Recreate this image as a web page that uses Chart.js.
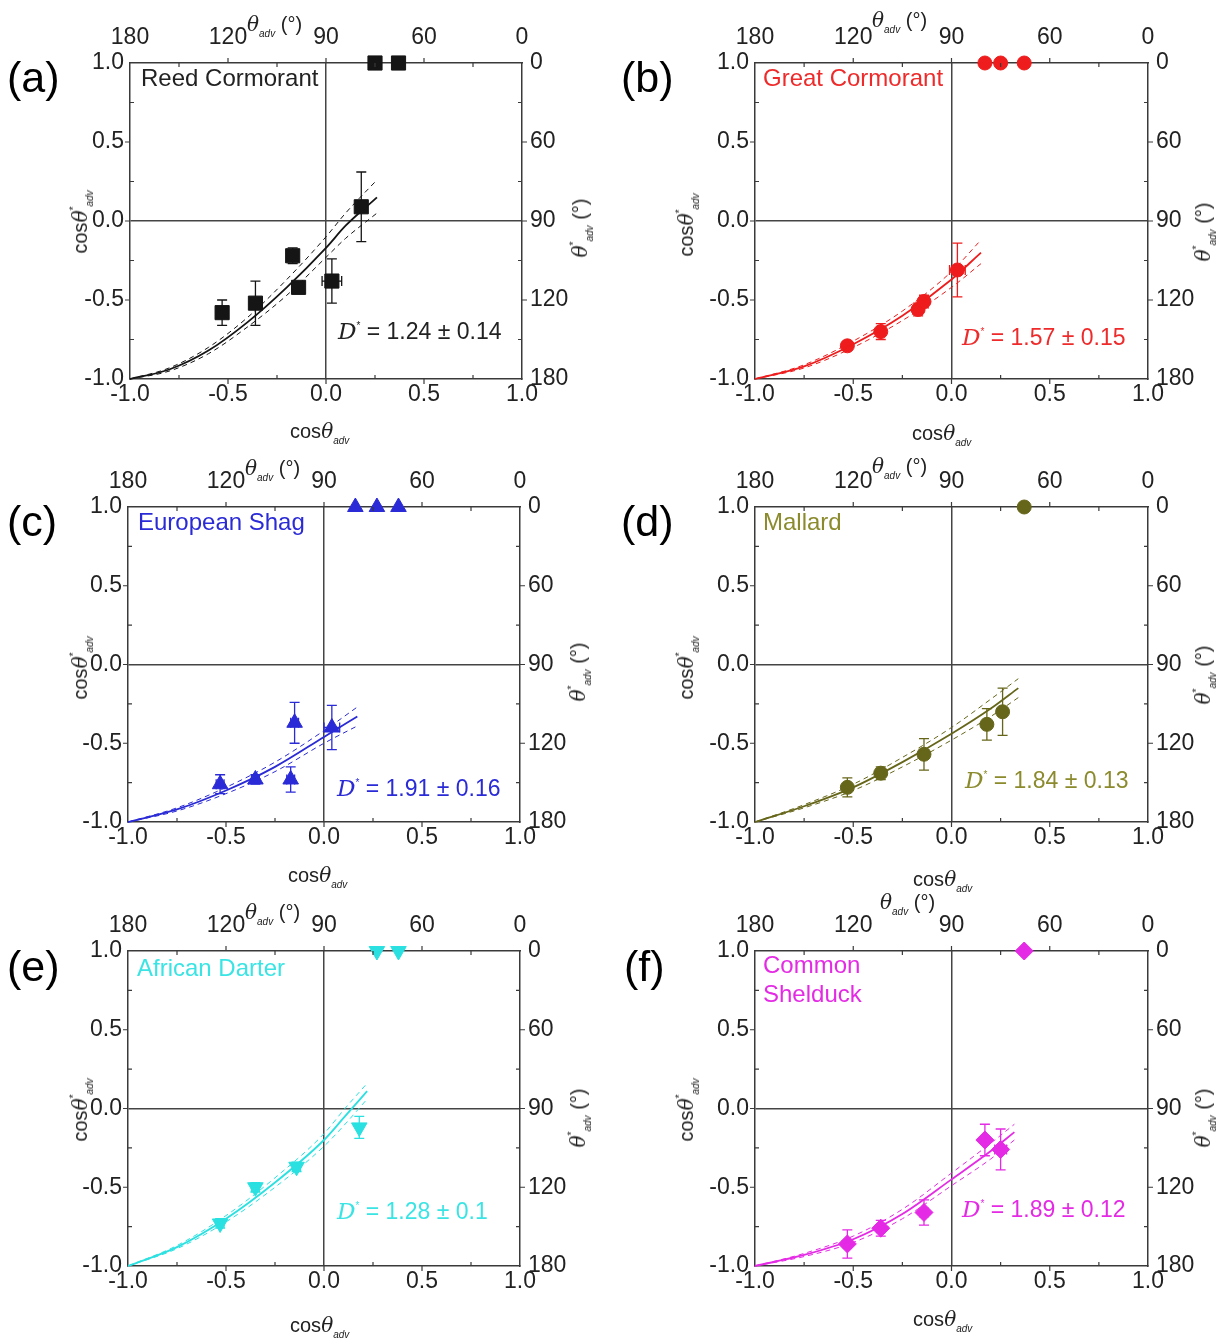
<!DOCTYPE html>
<html>
<head>
<meta charset="utf-8">
<script src="https://cdn.jsdelivr.net/npm/chart.js@4.4.1/dist/chart.umd.min.js"></script>
<style>
  body { margin: 0; background: #fff; font-family: 'Liberation Sans', Arial, sans-serif; }
  #wrap { position: relative; width: 1225px; height: 1344px; overflow: hidden; }
  canvas { position: absolute; }
  .t { position: absolute; white-space: nowrap; line-height: 1; }
  .let { font-size: 43px; color: #000; }
  .sp { font-size: 24px; }
  .dv { font-size: 23px; }
  .ax { font-size: 20px; color: #222; }
  .ax i, .dv i { font-family: 'DejaVu Serif', serif; }
  .ax sub { font-size: 10px; font-style: italic; vertical-align: -6px; }
  .ax sup, .dv sup { font-size: 10px; vertical-align: 10px; }
  .rot { transform: translate(-50%, -50%) rotate(-90deg); }
</style>
</head>
<body>
<div id="wrap"></div>
<script>
// tick labels
const cosLabels = ['-1.0', '-0.5', '0.0', '0.5', '1.0'];
const angleLabels = ['180', '120', '90', '60', '0'];

// (a) Reed Cormorant
const reedX = [-0.53, -0.36, -0.17, -0.14, 0.03, 0.18];
const reedY = [-0.58, -0.52, -0.22, -0.42, -0.38, 0.09];
const reedYErr = [0.08, 0.14, 0.05, 0.03, 0.14, 0.22];
const reedXErr = [0, 0, 0, 0, 0.05, 0];
const reedTopX = [0.25, 0.37];
const reedFitX = [-1, -0.8, -0.6, -0.4, -0.2, 0, 0.1, 0.26];
const reedFitY = [-1, -0.94, -0.82, -0.64, -0.42, -0.17, -0.03, 0.15];
const reedFitHi = [-1, -0.93, -0.80, -0.61, -0.37, -0.10, 0.05, 0.26];
const reedFitLo = [-1, -0.95, -0.84, -0.67, -0.47, -0.23, -0.11, 0.05];

// (b) Great Cormorant
const greatX = [-0.53, -0.36, -0.17, -0.14, 0.03];
const greatY = [-0.79, -0.70, -0.56, -0.51, -0.31];
const greatYErr = [0.02, 0.05, 0.04, 0.04, 0.17];
const greatXErr = [0.02, 0.02, 0.02, 0.02, 0.04];
const greatTopX = [0.17, 0.25, 0.37];
const greatFitX = [-1, -0.75, -0.5, -0.25, 0, 0.15];
const greatFitY = [-1, -0.92, -0.78, -0.60, -0.37, -0.20];
const greatFitHi = [-1, -0.91, -0.76, -0.57, -0.32, -0.12];
const greatFitLo = [-1, -0.93, -0.80, -0.63, -0.42, -0.27];

// (c) European Shag
const shagX = [-0.53, -0.35, -0.17, -0.15, 0.04];
const shagY = [-0.76, -0.73, -0.73, -0.37, -0.40];
const shagYErr = [0.06, 0.03, 0.08, 0.13, 0.14];
const shagXErr = [0.02, 0.02, 0.02, 0.02, 0.04];
const shagTopX = [0.16, 0.27, 0.38];
const shagFitX = [-1, -0.75, -0.5, -0.25, 0, 0.17];
const shagFitY = [-1, -0.92, -0.80, -0.65, -0.46, -0.33];
const shagFitHi = [-1, -0.91, -0.78, -0.62, -0.42, -0.27];
const shagFitLo = [-1, -0.93, -0.82, -0.68, -0.50, -0.39];

// (d) Mallard
const mallX = [-0.53, -0.36, -0.14, 0.18, 0.26];
const mallY = [-0.78, -0.69, -0.57, -0.38, -0.30];
const mallYErr = [0.06, 0.04, 0.10, 0.10, 0.15];
const mallXErr = [0, 0, 0.02, 0, 0];
const mallTopX = [0.37];
const mallFitX = [-1, -0.75, -0.5, -0.25, 0, 0.2, 0.34];
const mallFitY = [-1, -0.90, -0.78, -0.62, -0.44, -0.28, -0.15];
const mallFitHi = [-1, -0.89, -0.76, -0.59, -0.40, -0.22, -0.09];
const mallFitLo = [-1, -0.91, -0.80, -0.65, -0.48, -0.33, -0.21];

// (e) African Darter
const dartX = [-0.53, -0.35, -0.14, 0.18];
const dartY = [-0.73, -0.50, -0.37, -0.12];
const dartYErr = [0.03, 0.03, 0.03, 0.07];
const dartXErr = [0.02, 0.02, 0.02, 0];
const dartTopX = [0.27, 0.38];
const dartFitX = [-1, -0.75, -0.5, -0.25, 0, 0.1, 0.22];
const dartFitY = [-1, -0.88, -0.70, -0.47, -0.20, -0.06, 0.11];
const dartFitHi = [-1, -0.87, -0.68, -0.44, -0.16, -0.01, 0.16];
const dartFitLo = [-1, -0.89, -0.72, -0.50, -0.24, -0.11, 0.06];

// (f) Common Shelduck
const sheldX = [-0.53, -0.36, -0.14, 0.17, 0.25];
const sheldY = [-0.86, -0.76, -0.66, -0.20, -0.26];
const sheldYErr = [0.09, 0.05, 0.08, 0.10, 0.13];
const sheldXErr = [0.02, 0.02, 0.02, 0.02, 0.03];
const sheldTopX = [0.37];
const sheldFitX = [-1, -0.75, -0.5, -0.25, 0, 0.2, 0.32];
const sheldFitY = [-1, -0.93, -0.83, -0.67, -0.45, -0.27, -0.15];
const sheldFitHi = [-1, -0.92, -0.81, -0.64, -0.41, -0.22, -0.10];
const sheldFitLo = [-1, -0.94, -0.85, -0.70, -0.49, -0.32, -0.20];

Chart.defaults.font.family = "'Liberation Sans', Arial, sans-serif";
Chart.defaults.font.size = 23;
Chart.defaults.color = '#222';

const errorBars = {
  id: 'errorBars',
  beforeDatasetsDraw(chart) {
    const { ctx, scales: { x, y } } = chart;
    chart.data.datasets.forEach(ds => {
      if (!ds.yErr) return;
      ctx.save();
      ctx.strokeStyle = ds.borderColor;
      ctx.lineWidth = 1.3;
      ctx.beginPath();
      ds.data.forEach((d, i) => {
        const px = x.getPixelForValue(d.x), py = y.getPixelForValue(d.y);
        const ey = ds.yErr[i], ex = ds.xErr[i];
        if (ey) {
          const t = y.getPixelForValue(d.y + ey), b = y.getPixelForValue(d.y - ey);
          ctx.moveTo(px, t); ctx.lineTo(px, b);
          ctx.moveTo(px - 5, t); ctx.lineTo(px + 5, t);
          ctx.moveTo(px - 5, b); ctx.lineTo(px + 5, b);
        }
        if (ex) {
          const l = x.getPixelForValue(d.x - ex), r = x.getPixelForValue(d.x + ex);
          ctx.moveTo(l, py); ctx.lineTo(r, py);
          ctx.moveTo(l, py - 5); ctx.lineTo(l, py + 5);
          ctx.moveTo(r, py - 5); ctx.lineTo(r, py + 5);
        }
      });
      ctx.stroke();
      ctx.restore();
    });
  }
};

// small tick marks on all four sides of the frame
const tickMarks = {
  id: 'tickMarks',
  afterDraw(chart) {
    const { ctx, chartArea: a, scales: { x, y } } = chart;
    ctx.save();
    ctx.strokeStyle = '#3a3a3a';
    ctx.lineWidth = 1.2;
    ctx.beginPath();
    for (let k = 1; k < 8; k++) {
      const v = -1 + k * 0.25;
      const major = k % 2 === 0;
      const px = x.getPixelForValue(v), py = y.getPixelForValue(v);
      const o = major ? 5 : 0, n = major ? 0 : 4;
      ctx.moveTo(px, a.bottom + o); ctx.lineTo(px, a.bottom - n);
      ctx.moveTo(px, a.top - o); ctx.lineTo(px, a.top + n);
      ctx.moveTo(a.left - o, py); ctx.lineTo(a.left + n, py);
      ctx.moveTo(a.right + o, py); ctx.lineTo(a.right - n, py);
    }
    ctx.stroke();
    ctx.restore();
  }
};

const wrap = document.getElementById('wrap');

function addText(cls, html, left, top, color) {
  const d = document.createElement('div');
  d.className = 't ' + cls;
  d.innerHTML = html;
  d.style.left = left + 'px';
  d.style.top = top + 'px';
  if (color) d.style.color = color;
  wrap.appendChild(d);
  return d;
}

function buildPanel(p) {
  const cv = document.createElement('canvas');
  cv.width = 612; cv.height = 450;
  cv.style.left = p.cx + 'px';
  cv.style.top = p.cy + 'px';
  wrap.appendChild(cv);

  const f = p.frame;
  const yW = f.l - p.cx, y2W = p.cx + 612 - f.r;
  const x2H = f.t - p.cy, xH = p.cy + 450 - f.b;

  const fitLine = (ys, dash, w) => ({
    data: p.fitX.map((v, i) => ({ x: v, y: ys[i] })),
    showLine: true, borderColor: p.color, borderWidth: w, borderDash: dash,
    pointRadius: 0, cubicInterpolationMode: 'monotone', clip: false
  });
  const marker = {
    pointStyle: p.style, pointRotation: p.rot || 0, radius: p.r,
    backgroundColor: p.color, borderColor: p.color, borderWidth: 1, clip: false
  };

  const border = { display: true, color: '#3a3a3a', width: 1.5 };
  const zeroGrid = { drawTicks: false, lineWidth: 1.5,
    color: c => (c.tick && c.tick.value === 0) ? '#444' : 'rgba(0,0,0,0)' };
  const noGrid = { drawTicks: false, drawOnChartArea: false };

  new Chart(cv, {
    type: 'scatter',
    data: {
      datasets: [
        fitLine(p.fitHi, [5, 4], 1),
        fitLine(p.fitLo, [5, 4], 1),
        fitLine(p.fitY, [], 1.8),
        Object.assign({ data: p.x.map((v, i) => ({ x: v, y: p.y[i] })), yErr: p.yErr, xErr: p.xErr }, marker),
        Object.assign({ data: p.topX.map(v => ({ x: v, y: 1 })) }, marker)
      ]
    },
    options: {
      responsive: false, animation: false, events: [],
      layout: { padding: 0 },
      plugins: { legend: { display: false }, tooltip: { enabled: false } },
      scales: {
        x: { type: 'linear', position: 'bottom', min: -1, max: 1,
          ticks: { stepSize: 0.5, padding: 2, maxRotation: 0, callback: (v, i) => cosLabels[i] },
          grid: zeroGrid, border, afterFit: s => { s.height = xH; } },
        x2: { type: 'linear', position: 'top', min: -1, max: 1,
          ticks: { stepSize: 0.5, padding: 12, maxRotation: 0, callback: (v, i) => angleLabels[i] },
          grid: noGrid, border, afterFit: s => { s.height = x2H; } },
        y: { type: 'linear', position: 'left', min: -1, max: 1,
          ticks: { stepSize: 0.5, padding: 6, callback: (v, i) => cosLabels[i] },
          grid: zeroGrid, border, afterFit: s => { s.width = yW; } },
        y2: { type: 'linear', position: 'right', min: -1, max: 1,
          ticks: { stepSize: 0.5, padding: 8, callback: (v, i) => angleLabels[i] },
          grid: noGrid, border, afterFit: s => { s.width = y2W; } }
      }
    },
    plugins: [errorBars, tickMarks]
  });

  const o = p.txt;
  addText('let', '(' + p.letter + ')', o.let[0], o.let[1]);
  p.names.forEach((nm, i) => addText('sp', nm, o.sp[0], o.sp[1] + i * 29, p.textColor));
  addText('dv', '<i>D</i><sup>*</sup> = ' + p.dval, o.dv[0], o.dv[1], p.textColor);
  addText('ax', 'cos<i>θ</i><sub>adv</sub>', o.bt[0], o.bt[1]);
  addText('ax rot', 'cos<i>θ</i><sup>*</sup><sub>adv</sub>', o.lt[0], o.lt[1]);
  addText('ax rot', '<i>θ</i><sup>*</sup><sub>adv</sub> (°)', o.rt[0], o.rt[1]);
  addText('ax', '<i>θ</i><sub>adv</sub> (°)', o.tt[0], o.tt[1]);
}

buildPanel({
  letter: 'a', names: ['Reed Cormorant'], dval: '1.24 ± 0.14',
  x: reedX, y: reedY, yErr: reedYErr, xErr: reedXErr, topX: reedTopX,
  fitX: reedFitX, fitY: reedFitY, fitHi: reedFitHi, fitLo: reedFitLo,
  color: '#151515', textColor: '#222', style: 'rect', r: 10,
  cx: 0, cy: 0, frame: { l: 130, r: 522, t: 63, b: 379 },
  txt: { let: [7, 56], sp: [141, 66], dv: [338, 320], bt: [290, 421], lt: [82, 222], rt: [582, 228], tt: [247, 14] }
});
buildPanel({
  letter: 'b', names: ['Great Cormorant'], dval: '1.57 ± 0.15',
  x: greatX, y: greatY, yErr: greatYErr, xErr: greatXErr, topX: greatTopX,
  fitX: greatFitX, fitY: greatFitY, fitHi: greatFitHi, fitLo: greatFitLo,
  color: '#ee1c1c', textColor: '#ee2a2a', style: 'circle', r: 7,
  cx: 612, cy: 0, frame: { l: 755, r: 1148, t: 63, b: 379 },
  txt: { let: [621, 56], sp: [763, 66], dv: [962, 326], bt: [912, 423], lt: [688, 225], rt: [1205, 232], tt: [872, 10] }
});
buildPanel({
  letter: 'c', names: ['European Shag'], dval: '1.91 ± 0.16',
  x: shagX, y: shagY, yErr: shagYErr, xErr: shagXErr, topX: shagTopX,
  fitX: shagFitX, fitY: shagFitY, fitHi: shagFitHi, fitLo: shagFitLo,
  color: '#2a2ad6', textColor: '#2a2ad6', style: 'triangle', r: 9,
  cx: 0, cy: 445, frame: { l: 128, r: 520, t: 507, b: 822 },
  txt: { let: [7, 500], sp: [138, 510], dv: [337, 777], bt: [288, 865], lt: [82, 668], rt: [580, 672], tt: [245, 458] }
});
buildPanel({
  letter: 'd', names: ['Mallard'], dval: '1.84 ± 0.13',
  x: mallX, y: mallY, yErr: mallYErr, xErr: mallXErr, topX: mallTopX,
  fitX: mallFitX, fitY: mallFitY, fitHi: mallFitHi, fitLo: mallFitLo,
  color: '#66661a', textColor: '#8b8b2e', style: 'circle', r: 7,
  cx: 612, cy: 445, frame: { l: 755, r: 1148, t: 507, b: 822 },
  txt: { let: [621, 500], sp: [763, 510], dv: [965, 769], bt: [913, 869], lt: [688, 668], rt: [1205, 675], tt: [872, 456] }
});
buildPanel({
  letter: 'e', names: ['African Darter'], dval: '1.28 ± 0.1',
  x: dartX, y: dartY, yErr: dartYErr, xErr: dartXErr, topX: dartTopX,
  fitX: dartFitX, fitY: dartFitY, fitHi: dartFitHi, fitLo: dartFitLo,
  color: '#2ae0e0', textColor: '#3ae4e4', style: 'triangle', rot: 180, r: 9,
  cx: 0, cy: 890, frame: { l: 128, r: 520, t: 951, b: 1266 },
  txt: { let: [7, 945], sp: [137, 956], dv: [337, 1200], bt: [290, 1315], lt: [82, 1110], rt: [580, 1118], tt: [245, 902] }
});
buildPanel({
  letter: 'f', names: ['Common', 'Shelduck'], dval: '1.89 ± 0.12',
  x: sheldX, y: sheldY, yErr: sheldYErr, xErr: sheldXErr, topX: sheldTopX,
  fitX: sheldFitX, fitY: sheldFitY, fitHi: sheldFitHi, fitLo: sheldFitLo,
  color: '#e42ae4', textColor: '#e42ae4', style: 'rectRot', r: 9,
  cx: 612, cy: 890, frame: { l: 755, r: 1148, t: 951, b: 1266 },
  txt: { let: [624, 945], sp: [763, 953], dv: [962, 1198], bt: [913, 1309], lt: [688, 1110], rt: [1205, 1118], tt: [880, 892] }
});
</script>
</body>
</html>
